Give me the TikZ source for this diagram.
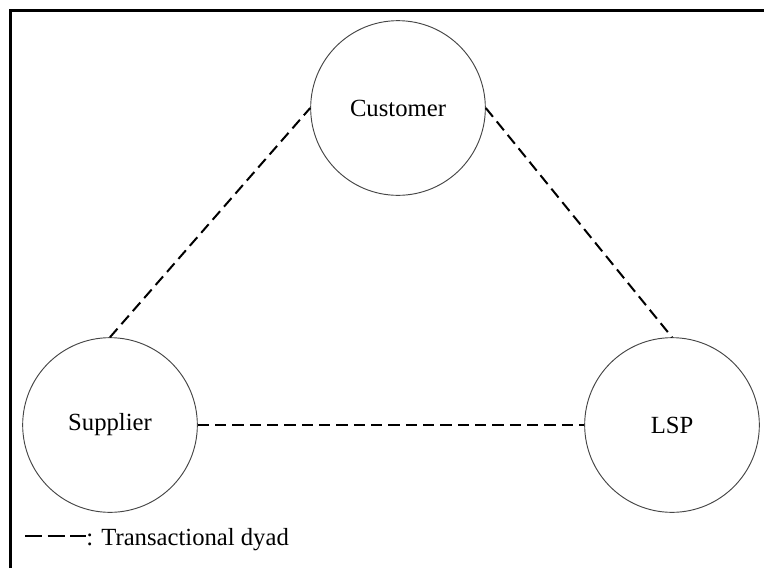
\documentclass[tikz,border=0pt]{standalone}
\usepackage{fontspec}
\setmainfont{Liberation Serif}
\usetikzlibrary{positioning}
\definecolor{rim}{RGB}{70, 70, 70}

\begin{document}
\begin{tikzpicture}[x=0.75pt, y=-0.75pt,
        party/.style={circle, draw=rim, line width=0.7pt, minimum size=131pt, inner sep=0pt, font=\fontsize{18.5}{21}\selectfont},
        dyad/.style={line width=1.5pt, dash pattern=on 8.5pt off 4.5pt},
        frame/.style={line width=1.6pt}
    ]
    \useasboundingbox (0,0) rectangle (764,568);
    % outer frame (left and top edges)
    \draw[frame] (10.5,568) -- (10.5,10.5) -- (764,10.5);

    \node[party] (customer) at (398,108) {Customer};
    \node[party] (supplier) at (110,425) {Supplier};
    \node[party] (lsp) at (672,425) {LSP};

    \draw[dyad] (supplier.north) -- (customer.west);
    \draw[dyad] (customer.east) -- (lsp.north);
    \draw[dyad] (supplier.east) -- (lsp.west);

    % legend
    \node[anchor=base west, inner sep=0pt, font=\fontsize{18.5}{21}\selectfont] (legend) at (86,545) {: Transactional dyad};
    \coordinate (legendstart) at (25,536);
    \draw[line width=1.5pt, dash pattern=on 13pt off 4pt] (legendstart) -- (legendstart -| legend.west);
\end{tikzpicture}
\end{document}
